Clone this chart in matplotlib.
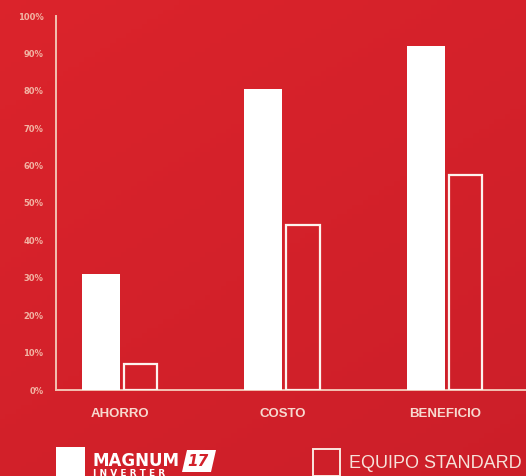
import matplotlib
matplotlib.use("Agg")
import matplotlib.pyplot as plt
import matplotlib.patches as mpatches
import numpy as np

categories = ["AHORRO", "COSTO", "BENEFICIO"]
magnum = [31, 80.5, 92]
standard = [7, 44, 57.5]
yticks = [0, 10, 20, 30, 40, 50, 60, 70, 80, 90, 100]
ytick_labels = ["0%", "10%", "20%", "30%", "40%", "50%", "60%", "70%", "80%", "90%", "100%"]

W, H = 526, 476
fig = plt.figure(figsize=(W / 100, H / 100), dpi=100)

# background gradient
bg = fig.add_axes([0, 0, 1, 1], zorder=-10)
yy, xx = np.mgrid[0:1:100j, 0:1:100j]
t = 0.6 * yy + 0.4 * xx
c1 = np.array([0.86, 0.14, 0.17])
c2 = np.array([0.80, 0.12, 0.16])
img = c1[None, None, :] * (1 - t[..., None]) + c2[None, None, :] * t[..., None]
bg.imshow(img, extent=[0, 1, 0, 1], aspect="auto", origin="upper")
bg.axis("off")

left, right = 56, 526
bottom_px, top_px = 390, 16
ax = fig.add_axes([left / W, (H - bottom_px) / H, (right - left) / W, (bottom_px - top_px) / H])
ax.patch.set_alpha(0)

pxu = 162.5
ax.set_xlim((left - 120) / pxu, (right - 120) / pxu)
ax.set_ylim(0, 100)

x = np.arange(len(categories))
ax.bar(x - 0.118, magnum, width=0.234, color="white", edgecolor="none", zorder=3)
ax.bar(x + 0.126, standard, width=0.205, facecolor="none", edgecolor="#fdf3ee", linewidth=1.6, zorder=3)

spine_c = "#f3c2b2"
for s in ["top", "right"]:
    ax.spines[s].set_visible(False)
ax.spines["left"].set_color(spine_c)
ax.spines["bottom"].set_color(spine_c)
ax.spines["left"].set_linewidth(1.4)
ax.spines["bottom"].set_linewidth(1.4)

ax.set_yticks(yticks)
ax.set_yticklabels(ytick_labels, fontsize=6, color="#f2b4a4", fontweight="bold")
ax.tick_params(axis="y", length=0, pad=9)
ax.set_xticks(x)
ax.set_xticklabels(categories, fontsize=9.5, color="#f7d9cf", fontweight="bold", family="Liberation Sans")
ax.tick_params(axis="x", length=0, pad=13)

# legend
def fx(px):
    return px / W

def fy(py):
    return (H - py) / H

fig.patches.append(mpatches.Rectangle((fx(56), fy(478)), 29 / W, 31 / H, transform=fig.transFigure,
                                      facecolor="white", edgecolor="none"))
fig.text(fx(92), fy(461), "MAGNUM", fontsize=12, fontweight="bold", color="white",
         va="center", ha="left", family="DejaVu Sans Condensed")
fig.text(fx(93), fy(473), "I N V E R T E R", fontsize=6.5, fontweight="bold", color="white",
         va="center", ha="left")
fig.patches.append(mpatches.Polygon([[fx(187), fy(450)], [fx(216), fy(450)], [fx(211), fy(472)], [fx(182), fy(472)]],
                                    closed=True, transform=fig.transFigure, facecolor="white", edgecolor="none"))
fig.text(fx(198), fy(461), "17", fontsize=11, fontweight="bold", fontstyle="italic", color="#d2212a",
         va="center", ha="center")

fig.patches.append(mpatches.Rectangle((fx(313), fy(476)), 27 / W, 27 / H, transform=fig.transFigure,
                                      facecolor="none", edgecolor="#fbe6de", linewidth=1.4))
fig.text(fx(349), fy(464), "EQUIPO STANDARD", fontsize=13, color="#f7e2da", va="center", ha="left",
         family="Liberation Sans")

fig.savefig("out.png", dpi=100)
